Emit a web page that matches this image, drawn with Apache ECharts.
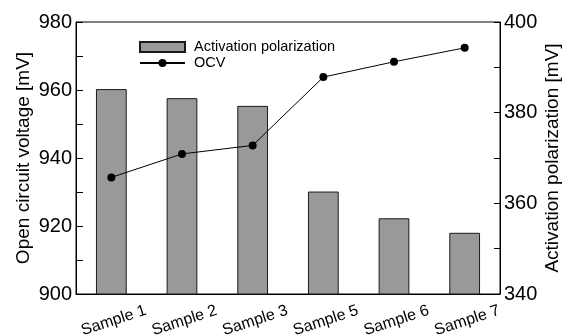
<!DOCTYPE html>
<html>
<head>
<meta charset="utf-8">
<script src="https://cdn.jsdelivr.net/npm/echarts@6/dist/echarts.min.js"></script>
<style>html,body{margin:0;padding:0;background:#fff}#c{width:571px;height:336px}</style>
</head>
<body>
<div id="c"></div>
<script>
const categories = ['Sample 1', 'Sample 2', 'Sample 3', 'Sample 5', 'Sample 6', 'Sample 7'];
const activationPolarization = [385.2, 383.2, 381.5, 362.6, 356.7, 353.5];
const ocv = [934.3, 941.2, 943.7, 963.8, 968.3, 972.4];
const leftTicks = [900, 920, 940, 960, 980];
const rightTicks = [340, 360, 380, 400];

const FONT = '"Liberation Sans", Arial, sans-serif';
const chart = echarts.init(document.getElementById('c'), null, {renderer: 'canvas'});
chart.setOption({
  animation: false,
  backgroundColor: '#fff',
  textStyle: {fontFamily: FONT, color: '#000'},
  grid: {left: 76, right: 71, top: 22, bottom: 42, containLabel: false, outerBoundsMode: 'none',
    show: true, borderColor: '#000', borderWidth: 1, backgroundColor: 'transparent'},
  legend: {
    orient: 'vertical', left: 134, top: 34.5, itemWidth: 45, itemHeight: 10, itemGap: 1,
    textStyle: {fontFamily: FONT, fontSize: 14.5, color: '#000', padding: [0, 0, 0, 4]},
    data: [
      {name: 'Activation polarization', icon: 'rect'},
      {name: 'OCV'}
    ]
  },
  xAxis: {
    type: 'category', data: categories,
    axisLine: {lineStyle: {color: '#000', width: 1}},
    axisTick: {inside: true, length: 4, lineStyle: {color: '#000'}},
    axisLabel: {rotate: 18, align: 'center', verticalAlign: 'top', margin: 19, fontSize: 16, color: '#000', fontFamily: FONT, interval: 0},
    splitLine: {show: false}
  },
  yAxis: [
    {
      type: 'value', min: 900, max: 980, interval: 10, position: 'left',
      name: 'Open circuit voltage [mV]', nameLocation: 'middle', nameGap: 43, nameRotate: 90, nameMoveOverlap: false,
      nameTextStyle: {fontSize: 19, color: '#000', fontFamily: FONT},
      axisLine: {show: true, lineStyle: {color: '#000', width: 1}},
      axisTick: {show: true, inside: true, length: 7, lineStyle: {color: '#000'}},
      axisLabel: {margin: 4, fontSize: 20, color: '#000', fontFamily: FONT,
        formatter: v => leftTicks.includes(v) ? String(v) : ''},
      splitLine: {show: false}
    },
    {
      type: 'value', min: 340, max: 400, interval: 10, position: 'right',
      name: 'Activation polarization [mV]', nameLocation: 'middle', nameGap: 43, nameRotate: 90, nameMoveOverlap: false,
      nameTextStyle: {fontSize: 19, color: '#000', fontFamily: FONT},
      axisLine: {show: true, lineStyle: {color: '#000', width: 1}},
      axisTick: {show: true, inside: true, length: 6, lineStyle: {color: '#000'}},
      axisLabel: {margin: 4, fontSize: 20, color: '#000', fontFamily: FONT,
        formatter: v => rightTicks.includes(v) ? String(v) : ''},
      splitLine: {show: false}
    }
  ],
  series: [
    {
      name: 'Activation polarization', type: 'bar', yAxisIndex: 1, data: activationPolarization,
      barWidth: '43.5%',
      itemStyle: {color: '#999999', borderColor: '#1a1a1a', borderWidth: 1}
    },
    {
      name: 'OCV', type: 'line', yAxisIndex: 0, data: ocv,
      symbol: 'circle', symbolSize: 8,
      lineStyle: {color: '#000', width: 1},
      itemStyle: {color: '#000'}
    }
  ]
});
</script>
</body>
</html>
